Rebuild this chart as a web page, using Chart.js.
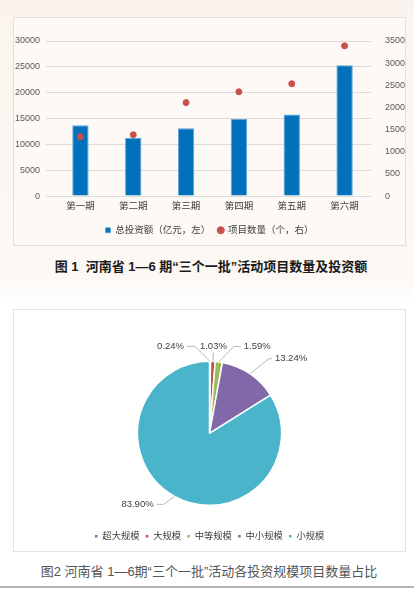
<!DOCTYPE html>
<html>
<head>
<meta charset="utf-8">
<script src="https://cdn.jsdelivr.net/npm/chart.js@4"></script>
<style>
  html, body { margin: 0; padding: 0; }
  body {
    width: 414px; height: 589px; position: relative; overflow: hidden;
    background: linear-gradient(#fbf4ee 0px, #fcf8f4 280px, #ffffff 300px, #ffffff 589px);
    font-family: 'Liberation Sans', 'Noto Sans CJK SC', sans-serif;
  }
  .box { position: absolute; box-sizing: border-box; border: 1px solid #e4dfda; }
  #box1 { left: 13px; top: 17px; width: 393px; height: 229px; background: #fdf9f6; }
  #box2 { left: 13px; top: 309px; width: 393px; height: 243px; background: #ffffff; border-color: #e3e3e3; }
  canvas { position: absolute; left: 0; top: 0; }
  .cap { position: absolute; left: 0; width: 414px; text-align: center; font-size: 13px; line-height: 18px;
         font-family: 'Liberation Sans', 'Noto Sans CJK SC', sans-serif; white-space: nowrap; }
  #cap1 { top: 258px; font-weight: bold; color: #1a1a1a; padding-left: 8px; box-sizing: border-box; }
  #cap2 { top: 563px; color: #555; padding-left: 4px; box-sizing: border-box; }
  #rule { position: absolute; left: 0; top: 586px; width: 414px; height: 2px; background: #b4b4b4; }
</style>
</head>
<body>
<div class="box" id="box1"><canvas id="c1" width="391" height="227"></canvas></div>
<div class="cap" id="cap1">图 1&nbsp; 河南省 1—6 期“三个一批”活动项目数量及投资额</div>
<div class="box" id="box2"><canvas id="c2" width="391" height="241"></canvas></div>
<div class="cap" id="cap2">图2 河南省 1—6期“三个一批”活动各投资规模项目数量占比</div>
<div id="rule"></div>
<script>
// data
const periods = ["第一期", "第二期", "第三期", "第四期", "第五期", "第六期"];
const investment = [13700, 11300, 13100, 14900, 15800, 25300];   // 亿元, left axis
const projectCount = [1340, 1385, 2110, 2355, 2535, 3390];        // 个, right axis
const leftTicks = { min: 0, max: 30000, step: 5000 };
const rightTicks = { min: 0, max: 3500, step: 500 };

const scaleNames = ["超大规模", "大规模", "中等规模", "中小规模", "小规模"];
const scaleShares = [0.24, 1.03, 1.59, 13.24, 83.9];

const FONT = "'Liberation Sans', 'Noto Sans CJK SC', sans-serif";
Chart.defaults.font.family = FONT;
Chart.defaults.color = "#595959";
Chart.defaults.animation = false;

const plain = (v) => String(v);

// chart 1
new Chart(document.getElementById("c1"), {
  type: "bar",
  data: {
    labels: periods,
    datasets: [
      {
        type: "bar",
        label: "总投资额（亿元，左）",
        data: investment,
        yAxisID: "y",
        backgroundColor: "#0071ba",
        borderColor: "#5ea6d8",
        borderWidth: { top: 1, left: 1, right: 1, bottom: 0 },
        barPercentage: 0.31,
        categoryPercentage: 1,
        pointStyle: "rect",
        order: 2,
      },
      {
        type: "line",
        label: "项目数量（个，右）",
        data: projectCount,
        yAxisID: "y1",
        showLine: false,
        pointRadius: 3,
        pointBackgroundColor: "#c9504b",
        pointBorderColor: "#c9504b",
        backgroundColor: "#c9504b",
        borderColor: "#c9504b",
        pointStyle: "circle",
        order: 1,
      },
    ],
  },
  options: {
    responsive: false,
    layout: { padding: { top: 23, left: 0, right: 0, bottom: 0 } },
    plugins: {
      tooltip: { enabled: false },
      legend: {
        position: "bottom",
        labels: {
          usePointStyle: true,
          boxWidth: 5,
          boxHeight: 5,
          padding: 8,
          color: "#404040",
          font: { size: 9.5 },
          sort: (a, b) => a.datasetIndex - b.datasetIndex,
        },
      },
    },
    scales: {
      x: {
        grid: { display: false, drawTicks: false },
        border: { display: false },
        ticks: { color: "#404040", font: { size: 9.5 }, padding: 5 },
      },
      y: {
        position: "left",
        min: leftTicks.min,
        max: leftTicks.max,
        ticks: { stepSize: leftTicks.step, font: { size: 9 }, padding: 6, callback: plain },
        grid: { color: "#dedad6" },
        border: { display: false },
        afterFit: (s) => { s.width = 40; },
      },
      y1: {
        position: "right",
        min: rightTicks.min,
        max: rightTicks.max,
        ticks: { stepSize: rightTicks.step, font: { size: 9 }, padding: 6, callback: plain },
        grid: { drawOnChartArea: false, display: false },
        border: { display: false },
        afterFit: (s) => { s.width = 34; },
      },
    },
  },
});

// leader lines and percentage labels for the pie
const labelLayout = [
  { dx: -15, dy: -15, run: 8, side: -1 },
  { dx: 0.5, dy: -9, run: 0, side: 0 },
  { dx: 15, dy: -15.5, run: 7, side: 1 },
  { dx: 19, dy: -15, run: 3, side: 1 },
  { dx: -11, dy: 8, run: 7, side: -1 },
];

const pieLabels = {
  id: "pieLabels",
  afterDatasetsDraw(chart) {
    const ctx = chart.ctx;
    const meta = chart.getDatasetMeta(0);
    ctx.save();
    ctx.font = "9.5px " + FONT;
    ctx.fillStyle = "#404040";
    ctx.strokeStyle = "#a6a6a6";
    ctx.lineWidth = 0.8;
    ctx.textBaseline = "middle";
    meta.data.forEach((arc, i) => {
      const p = arc.getProps(["x", "y", "startAngle", "endAngle", "outerRadius"], true);
      const mid = (p.startAngle + p.endAngle) / 2;
      const ex = p.x + Math.cos(mid) * p.outerRadius;
      const ey = p.y + Math.sin(mid) * p.outerRadius;
      const L = labelLayout[i];
      const bx = ex + L.dx, by = ey + L.dy;
      const cx = bx + L.side * L.run;
      ctx.beginPath();
      ctx.moveTo(ex, ey);
      ctx.lineTo(bx, by);
      if (L.run) ctx.lineTo(cx, by);
      ctx.stroke();
      const txt = scaleShares[i].toFixed(2) + "%";
      if (L.side === 0) {
        ctx.textAlign = "center";
        ctx.fillText(txt, bx, by - 6);
      } else {
        ctx.textAlign = L.side < 0 ? "right" : "left";
        ctx.fillText(txt, cx + L.side * 3, by);
      }
    });
    ctx.restore();
  },
};

// chart 2
new Chart(document.getElementById("c2"), {
  type: "pie",
  data: {
    labels: scaleNames,
    datasets: [
      {
        data: scaleShares,
        backgroundColor: ["#4f81bd", "#c0504d", "#9bbb59", "#8068a9", "#4ab4cb"],
        borderColor: "#ffffff",
        borderWidth: 1.5,
        radius: 72,
      },
    ],
  },
  options: {
    responsive: false,
    layout: { padding: { top: 31, bottom: 0 } },
    plugins: {
      tooltip: { enabled: false },
      legend: {
        position: "bottom",
        labels: {
          usePointStyle: true,
          pointStyle: "rect",
          boxWidth: 3,
          boxHeight: 4,
          padding: 6,
          color: "#404040",
          font: { size: 9.3 },
        },
      },
    },
  },
  plugins: [pieLabels],
});
</script>
</body>
</html>
